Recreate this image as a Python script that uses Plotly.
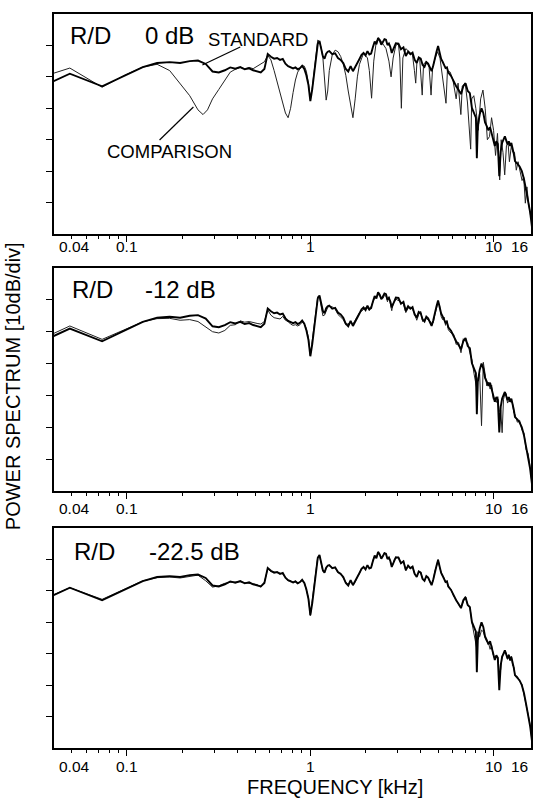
import math
import plotly.graph_objects as go

# Power spectra (dB re. panel top, 10 dB per division), frequency in kHz.
FREQ_KHZ = [
    0.0244, 0.0488, 0.0732, 0.0977, 0.122, 0.146, 0.171, 0.195, 0.220, 0.244,
    0.269, 0.293, 0.317, 0.342, 0.366, 0.390, 0.415, 0.439, 0.464, 0.488,
    0.513, 0.537, 0.562, 0.586, 0.610, 0.635, 0.659, 0.684, 0.708, 0.732,
    0.757, 0.781, 0.806, 0.830, 0.854, 0.879, 0.903, 0.928, 0.952, 0.977,
    1.001, 1.025, 1.050, 1.074, 1.099, 1.123, 1.147, 1.172, 1.196, 1.221,
    1.245, 1.270, 1.318, 1.367, 1.416, 1.465, 1.514, 1.563, 1.611, 1.660,
    1.709, 1.758, 1.807, 1.855, 1.904, 1.953, 2.002, 2.051, 2.100, 2.148,
    2.197, 2.246, 2.295, 2.344, 2.393, 2.441, 2.490, 2.539, 2.588, 2.637,
    2.686, 2.734, 2.783, 2.832, 2.881, 2.930, 3.027, 3.125, 3.223, 3.320,
    3.418, 3.516, 3.613, 3.711, 3.809, 3.906, 4.004, 4.102, 4.199, 4.297,
    4.395, 4.492, 4.590, 4.688, 4.785, 4.883, 4.980, 5.078, 5.176, 5.273,
    5.371, 5.469, 5.566, 5.664, 5.859, 6.055, 6.250, 6.445, 6.641, 6.836,
    7.031, 7.227, 7.422, 7.617, 7.813, 8.008, 8.105, 8.203, 8.398, 8.594,
    8.789, 8.984, 9.180, 9.375, 9.570, 9.766, 9.961, 10.156, 10.352, 10.547,
    10.742, 10.938, 11.133, 11.328, 11.523, 11.719, 11.914, 12.109, 12.305, 12.500,
    12.695, 12.891, 13.086, 13.477, 13.867, 14.258, 14.648, 15.039, 15.430, 15.820,
    16.211,
]

STANDARD_DB = [
    -27.0, -19.0, -23.0, -19.6, -16.9, -15.6, -15.3, -15.6, -15.0, -14.8,
    -15.9, -18.3, -18.6, -17.9, -17.0, -17.4, -16.9, -17.6, -17.3, -17.9,
    -18.2, -18.6, -17.5, -12.7, -13.6, -14.2, -14.0, -14.6, -14.3, -15.8,
    -16.6, -16.9, -17.3, -17.0, -17.6, -17.2, -16.5, -17.5, -19.5, -22.5,
    -27.7, -24.0, -18.5, -14.0, -9.5, -8.6, -11.0, -13.5, -14.2, -12.6,
    -12.0, -11.8, -12.8, -12.5, -14.0, -14.6, -15.6, -17.5, -18.3, -16.6,
    -18.2, -17.0, -15.8, -14.3, -13.0, -12.4, -13.2, -11.8, -12.9, -12.6,
    -10.5, -8.8, -9.6, -7.6, -8.4, -9.8, -8.9, -8.0, -8.2, -9.9,
    -9.4, -10.5, -12.4, -11.2, -10.0, -9.3, -9.4, -11.2, -10.6, -13.4,
    -12.0, -12.8, -12.3, -14.6, -15.6, -13.8, -14.2, -16.2, -16.8, -15.3,
    -15.8, -17.0, -18.2, -16.4, -13.8, -12.0, -10.2, -12.4, -14.3, -15.2,
    -16.0, -17.2, -17.0, -18.6, -19.7, -21.5, -23.0, -24.2, -25.5, -23.0,
    -22.0, -24.5, -25.2, -29.9, -31.5, -33.0, -45.9, -35.7, -32.0, -30.0,
    -31.5, -34.5, -35.7, -37.0, -36.0, -37.9, -40.0, -42.0, -40.5, -41.4,
    -51.6, -43.6, -41.0, -40.0, -38.9, -40.2, -41.5, -40.5, -42.0, -41.0,
    -43.5, -44.5, -46.8, -47.5, -48.5, -50.0, -52.5, -56.0, -59.0, -63.0,
    -68.0,
]

COMPARISON_12_DB = [
    -26.2, -18.2, -22.4, -19.4, -16.9, -15.9, -15.8, -16.4, -16.2, -16.8,
    -18.4, -20.0, -20.4, -19.6, -18.0, -17.8, -16.6, -17.0, -16.8, -17.2,
    -17.4, -17.6, -16.8, -13.2, -14.8, -15.6, -15.8, -16.0, -15.2, -16.4,
    -16.8, -17.6, -18.0, -17.8, -18.2, -17.8, -17.0, -17.6, -19.0, -21.8,
    -27.5, -23.0, -17.2, -12.8, -9.0, -9.2, -12.6, -15.0, -14.8, -13.2,
    -12.4, -12.0, -12.2, -12.9, -14.6, -15.4, -16.2, -17.8, -17.6, -17.2,
    -17.6, -16.4, -15.2, -14.0, -13.6, -12.9, -12.4, -12.6, -13.4, -12.0,
    -10.8, -9.4, -9.0, -8.2, -8.9, -9.2, -9.6, -8.6, -8.8, -10.6,
    -9.0, -11.2, -13.4, -11.0, -10.6, -9.8, -10.2, -10.6, -11.4, -14.0,
    -12.6, -12.2, -13.0, -14.2, -16.4, -14.6, -13.6, -16.8, -16.0, -15.8,
    -16.4, -16.6, -17.4, -17.2, -14.6, -12.6, -10.8, -11.8, -15.2, -16.2,
    -15.4, -18.0, -16.4, -19.4, -20.4, -20.8, -24.0, -23.4, -26.6, -22.2,
    -23.0, -23.6, -26.6, -28.8, -33.0, -36.5, -38.0, -34.6, -33.4, -49.5,
    -29.6, -33.2, -37.0, -35.8, -38.0, -36.8, -41.2, -40.8, -42.2, -40.4,
    -45.0, -44.6, -51.7, -41.2, -39.6, -39.4, -42.4, -41.6, -41.2, -42.2,
    -42.6, -45.4, -46.0, -48.4, -47.8, -50.8, -51.8, -57.0, -58.2, -62.4,
    -68.0,
]

COMPARISON_22_DB = [
    -26.6, -19.0, -22.7, -19.4, -16.8, -15.8, -15.6, -15.9, -15.3, -15.0,
    -16.8, -18.8, -18.4, -17.6, -17.3, -17.2, -17.1, -17.4, -17.6, -17.6,
    -18.0, -18.8, -17.2, -13.0, -13.9, -14.0, -14.3, -14.4, -14.6, -15.6,
    -16.8, -16.7, -17.5, -16.8, -17.8, -17.0, -16.7, -17.3, -19.8, -22.2,
    -27.9, -23.6, -18.2, -13.6, -9.2, -8.8, -11.3, -13.8, -14.0, -12.8,
    -11.8, -12.0, -12.6, -12.7, -14.2, -14.4, -15.8, -17.3, -18.0, -16.9,
    -18.0, -17.2, -15.6, -14.5, -12.8, -12.6, -13.0, -12.0, -12.7, -12.8,
    -10.3, -9.0, -9.4, -7.8, -8.6, -9.6, -9.1, -7.8, -8.4, -9.7,
    -9.6, -10.3, -12.2, -11.4, -9.8, -9.5, -9.2, -11.4, -10.4, -13.6,
    -11.8, -13.0, -12.1, -14.8, -15.4, -14.0, -14.0, -16.4, -16.6, -15.5,
    -15.6, -17.2, -18.0, -16.6, -13.6, -12.2, -10.0, -12.6, -14.1, -15.4,
    -15.8, -17.4, -16.8, -18.8, -19.5, -21.7, -22.8, -24.4, -25.3, -23.2,
    -21.8, -24.7, -25.0, -30.1, -33.5, -36.0, -38.5, -33.0, -34.6, -32.5,
    -33.0, -35.0, -36.2, -36.5, -38.6, -37.4, -40.4, -41.6, -41.0, -41.0,
    -47.0, -45.0, -40.6, -40.4, -39.2, -39.8, -41.8, -40.2, -42.3, -40.8,
    -43.8, -44.2, -47.0, -47.2, -48.8, -49.7, -52.8, -55.6, -59.3, -62.6,
    -68.0,
]

# 0 dB reflection: comb-filtered comparison spectrum on its own frequency grid.
COMPARISON_0_KHZ = [
    0.0244, 0.0488, 0.0732, 0.0977, 0.122, 0.146, 0.171, 0.195, 0.220, 0.244,
    0.260, 0.275, 0.293, 0.317, 0.342, 0.366, 0.390, 0.415, 0.439, 0.464,
    0.488, 0.513, 0.537, 0.562, 0.586, 0.610, 0.635, 0.659, 0.684, 0.708,
    0.732, 0.757, 0.781, 0.806, 0.830, 0.854, 0.879, 0.903, 0.928, 0.952,
    0.977, 1.001, 1.025, 1.050, 1.074, 1.099, 1.123, 1.147, 1.172, 1.196,
    1.221, 1.245, 1.270, 1.318, 1.367, 1.416, 1.465, 1.514, 1.563, 1.611,
    1.660, 1.709, 1.758, 1.807, 1.855, 1.953, 2.051, 2.100, 2.160, 2.220,
    2.295, 2.393, 2.490, 2.588, 2.686, 2.760, 2.832, 2.930, 3.027, 3.080,
    3.140, 3.200, 3.320, 3.460, 3.611, 3.700, 3.760, 3.820, 3.950, 4.080,
    4.150, 4.300, 4.450, 4.560, 4.650, 4.800, 4.950, 5.100, 5.250, 5.500,
    5.600, 5.800, 6.000, 6.250, 6.400, 6.630, 6.750, 7.000, 7.200, 7.500,
    7.600, 7.800, 8.000, 8.250, 8.500, 8.750, 9.000, 9.250, 9.500, 9.750,
    10.00, 10.25, 10.50, 10.80, 11.00, 11.25, 11.50, 11.75, 12.00, 12.20,
    12.50, 12.75, 13.00, 13.30, 13.60, 14.00, 14.30, 14.60, 14.90, 15.20,
    15.50, 16.00,
]

COMPARISON_0_DB = [
    -22.8, -17.2, -23.3, -19.4, -16.9, -16.0, -18.0, -22.0, -26.0, -30.5,
    -32.0, -30.5, -27.0, -24.0, -21.0, -18.5, -17.6, -17.0, -17.4, -17.0,
    -17.4, -16.6, -15.8, -15.2, -13.2, -14.6, -18.0, -21.5, -25.0, -28.5,
    -31.5, -33.0, -30.0, -25.0, -21.0, -18.5, -17.3, -16.4, -16.6, -18.2,
    -22.0, -26.8, -23.5, -18.5, -12.5, -8.3, -8.8, -10.8, -14.0, -20.0,
    -27.4, -24.5, -18.0, -13.0, -11.5, -12.0, -13.5, -16.0, -19.5, -24.5,
    -29.0, -33.0, -27.0, -20.0, -16.0, -12.5, -14.0, -18.0, -26.8, -15.0,
    -8.5, -8.0, -9.5, -11.0, -15.0, -20.0, -14.0, -10.0, -9.5, -14.0,
    -30.0, -14.0, -11.0, -12.0, -13.0, -18.0, -22.0, -15.0, -14.0, -25.8,
    -16.0, -15.0, -17.0, -25.8, -17.0, -14.0, -12.0, -14.0, -20.0, -28.4,
    -18.0, -18.5, -21.0, -27.0, -22.0, -32.0, -23.0, -22.0, -28.0, -43.0,
    -27.0, -26.0, -30.0, -37.0, -27.0, -24.2, -30.0, -40.0, -39.0, -33.0,
    -37.0, -45.0, -38.0, -52.8, -40.0, -44.0, -51.2, -42.0, -41.0, -47.0,
    -42.0, -44.0, -44.0, -49.7, -47.0, -50.0, -53.0, -52.0, -60.2, -55.0,
    -60.0, -65.0,
]

PANEL_LEVELS = ["0 dB", "-12 dB", "-22.5 dB"]
X_TICK_VALUES = [0.04, 0.1, 1, 10, 16]
X_TICK_LABELS = ["0.04", "0.1", "1", "10", "16"]
X_MINOR_TICKS = [0.05, 0.06, 0.07, 0.08, 0.09,
                 0.2, 0.3, 0.4, 0.5, 0.6, 0.7, 0.8, 0.9,
                 2, 3, 4, 5, 6, 7, 8, 9]
Y_TICKS_DB = [-60, -50, -40, -30, -20, -10]

assert len(FREQ_KHZ) == len(STANDARD_DB) == len(COMPARISON_12_DB) == len(COMPARISON_22_DB)
assert len(COMPARISON_0_KHZ) == len(COMPARISON_0_DB)

comparisons = [
    (COMPARISON_0_KHZ, COMPARISON_0_DB),
    (FREQ_KHZ, COMPARISON_12_DB),
    (FREQ_KHZ, COMPARISON_22_DB),
]

# Page geometry (pixels)
W, H = 537, 800
ML, MR, MT, MB = 54, 4, 14, 52
PANEL_TOPS = [14, 268, 528]
PANEL_BOTTOMS = [234, 491, 748]
FONT = "Liberation Sans, Arial, Helvetica, sans-serif"


def xp(px):
    return (px - ML) / (W - ML - MR)


def yp(py):
    return (H - MB - py) / (H - MT - MB)


fig = go.Figure()
layout = dict(
    width=W, height=H,
    margin=dict(l=ML, r=MR, t=MT, b=MB, pad=0),
    paper_bgcolor="white", plot_bgcolor="white",
    showlegend=False,
    font=dict(family=FONT, color="black"),
)

annotations = []
shapes = []
tick_label_offsets = [13, 17, 18]

for i, (cx, cy) in enumerate(comparisons):
    n = "" if i == 0 else str(i + 1)
    xa, ya = "x" + n, "y" + n
    fig.add_trace(go.Scatter(x=cx, y=cy, mode="lines", xaxis=xa, yaxis=ya,
                             line=dict(color="#222", width=1.0)))
    fig.add_trace(go.Scatter(x=FREQ_KHZ, y=STANDARD_DB, mode="lines", xaxis=xa, yaxis=ya,
                             line=dict(color="black", width=1.9)))

    layout["xaxis" + n] = dict(
        type="log", range=[math.log10(0.04), math.log10(16)], domain=[0, 1],
        anchor=ya, showline=True, mirror=True, linecolor="black", linewidth=1.6,
        showgrid=False, zeroline=False, ticks="outside", ticklen=6, tickwidth=1.2,
        tickcolor="black", tickmode="array", tickvals=[0.1, 1, 10], showticklabels=False,
        minor=dict(ticks="outside", ticklen=3, tickwidth=1, tickcolor="black",
                   tickmode="array", tickvals=X_MINOR_TICKS, showgrid=False),
    )
    layout["yaxis" + n] = dict(
        range=[-70, 0], domain=[yp(PANEL_BOTTOMS[i]), yp(PANEL_TOPS[i])],
        anchor=xa, showline=True, mirror=True, linecolor="black", linewidth=1.6,
        showgrid=False, zeroline=False, ticks="outside", ticklen=6, tickwidth=1.2,
        tickcolor="black", tickmode="array", tickvals=Y_TICKS_DB, showticklabels=False,
    )

    # frequency tick labels
    for v, lab in zip(X_TICK_VALUES, X_TICK_LABELS):
        anchor, shift = "center", 0
        if v == X_TICK_VALUES[0]:
            anchor, shift = "left", 3
        elif v == X_TICK_VALUES[-1]:
            anchor, shift = "right", -1
        annotations.append(dict(
            x=math.log10(v), xref=xa, y=yp(PANEL_BOTTOMS[i] + tick_label_offsets[i]),
            yref="paper", text=lab, showarrow=False, xanchor=anchor, yanchor="middle",
            xshift=shift, font=dict(size=15.5, family=FONT, color="black"),
        ))

    # panel caption: R/D ratio
    top = PANEL_TOPS[i]
    cy_px = top + (21 if i < 2 else 23)
    annotations.append(dict(x=xp(68 + (2 if i == 1 else 4 * (i == 2))), xref="paper",
                            y=yp(cy_px), yref="paper", text="R/D", showarrow=False,
                            xanchor="left", yanchor="middle",
                            font=dict(size=24, family=FONT, color="black")))
    annotations.append(dict(x=xp(143 + (4 if i == 2 else 0)), xref="paper",
                            y=yp(cy_px), yref="paper", text=PANEL_LEVELS[i], showarrow=False,
                            xanchor="left", yanchor="middle",
                            font=dict(size=24, family=FONT, color="black")))

# curve labels with leader lines in the top panel
annotations.append(dict(x=xp(207), xref="paper", y=yp(39), yref="paper", text="STANDARD",
                        showarrow=False, xanchor="left", yanchor="middle",
                        font=dict(size=18.5, family=FONT, color="black")))
annotations.append(dict(x=xp(170), xref="paper", y=yp(151), yref="paper", text="COMPARISON",
                        showarrow=False, xanchor="center", yanchor="middle",
                        font=dict(size=18.5, family=FONT, color="black")))
shapes.append(dict(type="line", xref="paper", yref="paper",
                   x0=xp(241), y0=yp(47), x1=xp(203), y1=yp(65),
                   line=dict(color="black", width=1.2)))
shapes.append(dict(type="line", xref="paper", yref="paper",
                   x0=xp(160), y0=yp(140), x1=xp(194), y1=yp(107),
                   line=dict(color="black", width=1.2)))

# axis titles
annotations.append(dict(x=xp(13), xref="paper", y=yp(386), yref="paper",
                        text="POWER SPECTRUM [10dB/div]", textangle=-90, showarrow=False,
                        xanchor="center", yanchor="middle",
                        font=dict(size=20, family=FONT, color="black")))
annotations.append(dict(x=xp(336), xref="paper", y=yp(787), yref="paper",
                        text="FREQUENCY [kHz]", showarrow=False,
                        xanchor="center", yanchor="middle",
                        font=dict(size=20, family=FONT, color="black")))

layout["annotations"] = annotations
layout["shapes"] = shapes
fig.update_layout(**layout)

fig.write_html("out.html")
